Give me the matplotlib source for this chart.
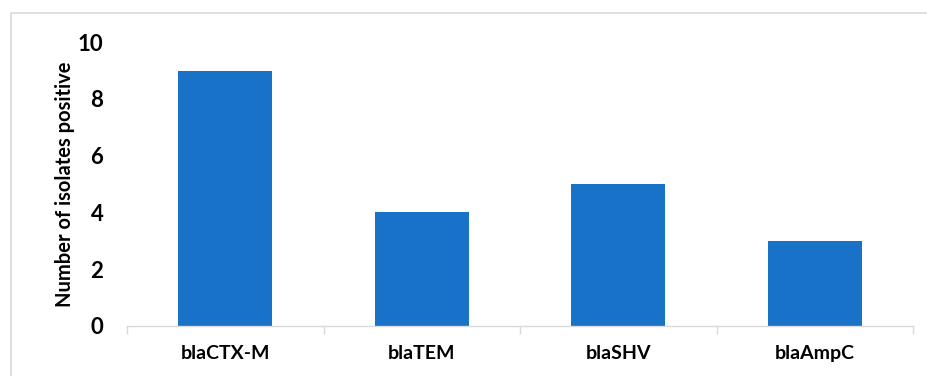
import matplotlib.pyplot as plt
import matplotlib.patches as patches
import numpy as np

plt.rcParams['font.family'] = ['Lato', 'DejaVu Sans']

# data
genes = ['blaCTX-M', 'blaTEM', 'blaSHV', 'blaAmpC']
positives = [9, 4, 5, 3]
yticks = [0, 2, 4, 6, 8, 10]

fig = plt.figure(figsize=(9.27, 3.76), dpi=100)
ax = fig.add_axes([0.137, 0.133, 0.848, 0.755])

x = np.arange(len(genes))
ax.bar(x, positives, width=0.48, color='#1872C8')

ax.set_xlim(-0.5, len(genes) - 0.5)
ax.set_ylim(0, 10)
ax.set_yticks(yticks)
ax.set_yticklabels([str(v) for v in yticks], fontsize=16, fontweight='bold')
ax.set_xticks(x)
ax.set_xticklabels(genes, fontsize=14, fontweight='bold')
ax.set_xticks(np.arange(len(genes) + 1) - 0.5, minor=True)
ax.tick_params(axis='x', which='major', length=0, pad=14)
ax.tick_params(axis='x', which='minor', length=6, color='#d9d9d9', width=1)
ax.tick_params(axis='y', length=0, pad=17)

for s in ['top', 'right', 'left']:
    ax.spines[s].set_visible(False)
ax.spines['bottom'].set_color('#d9d9d9')
ax.spines['bottom'].set_linewidth(1)

ax.set_ylabel('Number of isolates positive', fontsize=14.5, fontweight='bold', labelpad=2)

# chart border
fig.patches.append(patches.Rectangle((11 / 927, -0.1), 1.0, 1 - 13 / 376 + 0.1,
                                     transform=fig.transFigure, fill=False,
                                     edgecolor='#d9d9d9', linewidth=1.2))

fig.savefig('out.png', dpi=100)
